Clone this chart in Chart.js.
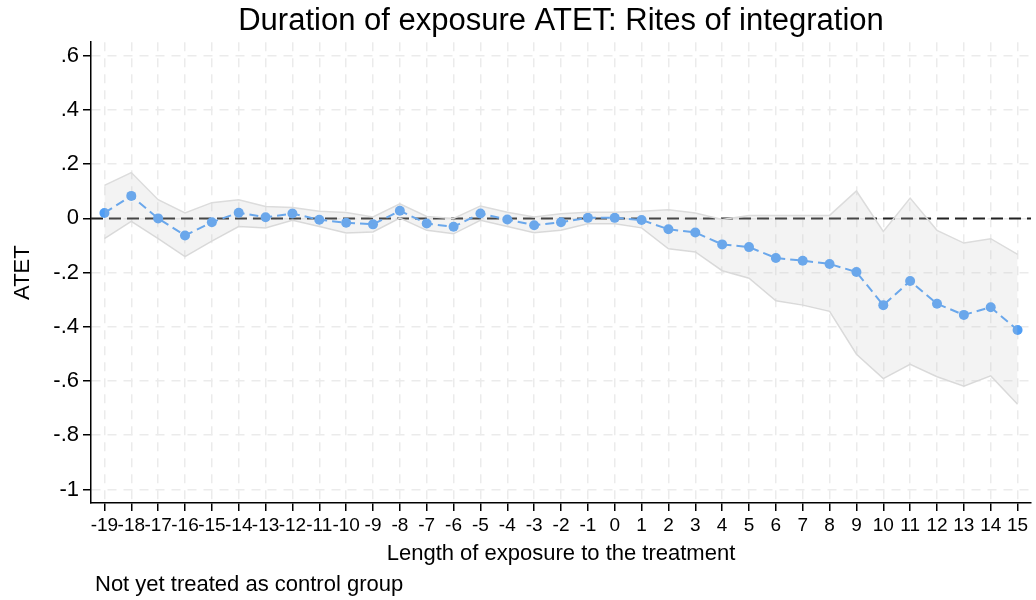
<!DOCTYPE html>
<html>
<head>
<meta charset="utf-8">
<script src="https://cdn.jsdelivr.net/npm/chart.js@4"></script>
<style>
  html, body { margin: 0; padding: 0; background: #fff; }
  #wrap { width: 1036px; height: 600px; }
</style>
</head>
<body>
<div id="wrap"><canvas id="chart-1"></canvas></div>
<script>
// length of exposure (periods relative to treatment)
const periods = [-19, -18, -17, -16, -15, -14, -13, -12, -11, -10, -9, -8, -7, -6, -5, -4, -3, -2, -1,
  0, 1, 2, 3, 4, 5, 6, 7, 8, 9, 10, 11, 12, 13, 14, 15];

// point estimates
const atet = [0.020, 0.083, 0.000, -0.063, -0.014, 0.021, 0.004, 0.018, -0.005, -0.016, -0.022,
  0.028, -0.019, -0.031, 0.018, -0.004, -0.025, -0.014, 0.002,
  0.002, -0.006, -0.040, -0.052, -0.096, -0.106, -0.146, -0.156, -0.168, -0.198, -0.320, -0.231,
  -0.315, -0.356, -0.328, -0.412];

// confidence interval bounds
const ciUpper = [0.122, 0.169, 0.069, 0.020, 0.058, 0.069, 0.044, 0.040, 0.026, 0.022, 0.005,
  0.054, 0.007, 0.000, 0.046, 0.023, 0.005, 0.017, 0.023,
  0.023, 0.026, 0.032, 0.020, -0.004, 0.011, 0.011, 0.011, 0.011, 0.101, -0.048, 0.075,
  -0.044, -0.091, -0.075, -0.133];
const ciLower = [-0.075, -0.011, -0.075, -0.141, -0.084, -0.030, -0.035, -0.007, -0.030, -0.054, -0.050,
  0.001, -0.044, -0.057, -0.007, -0.030, -0.053, -0.044, -0.020,
  -0.020, -0.035, -0.112, -0.124, -0.193, -0.221, -0.304, -0.320, -0.343, -0.501, -0.591, -0.538,
  -0.584, -0.619, -0.581, -0.686];

// y axis ticks and their labels
const yTicks = [-1, -0.8, -0.6, -0.4, -0.2, 0, 0.2, 0.4, 0.6];
const yTickLabels = ['-1', '-.8', '-.6', '-.4', '-.2', '0', '.2', '.4', '.6'];

const titleText = 'Duration of exposure ATET: Rites of integration';
const xTitle = 'Length of exposure to the treatment';
const yTitle = 'ATET';
const noteText = 'Not yet treated as control group';

const FONT = '"Liberation Sans", Arial, Helvetica, sans-serif';
const blue = 'rgb(80, 158, 245)';

const toXY = (vals) => periods.map((p, i) => ({ x: p, y: vals[i] }));

// zero reference line, drawn between the band and the estimates
const zeroLine = {
  id: 'zeroLine',
  beforeDatasetDraw(chart, args) {
    if (args.index !== 2) return;
    const { ctx, chartArea } = chart;
    const y = chart.scales.y.getPixelForValue(0);
    ctx.save();
    ctx.strokeStyle = '#222';
    ctx.lineWidth = 2;
    ctx.setLineDash([12, 6]);
    ctx.beginPath();
    ctx.moveTo(chartArea.left, y);
    ctx.lineTo(chartArea.right, y);
    ctx.stroke();
    ctx.restore();
  }
};

// note under the chart
const note = {
  id: 'note',
  afterDraw(chart) {
    const { ctx, chartArea } = chart;
    ctx.save();
    ctx.font = '22px ' + FONT;
    ctx.fillStyle = '#000';
    ctx.textBaseline = 'alphabetic';
    ctx.fillText(noteText, chartArea.left + 4, 591);
    ctx.restore();
  }
};

const ctx1 = document.getElementById('chart-1').getContext('2d');
const myChart = new Chart(ctx1, {
  type: 'line',
  data: {
    datasets: [
      {
        label: 'upper',
        data: toXY(ciUpper),
        borderColor: '#dcdcdc',
        borderWidth: 1.5,
        pointRadius: 0,
        fill: '+1',
        backgroundColor: 'rgba(200, 200, 200, 0.22)',
        tension: 0
      },
      {
        label: 'lower',
        data: toXY(ciLower),
        borderColor: '#dcdcdc',
        borderWidth: 1.5,
        pointRadius: 0,
        fill: false,
        tension: 0
      },
      {
        label: 'ATET',
        data: toXY(atet),
        borderColor: blue,
        backgroundColor: blue,
        borderWidth: 2,
        borderDash: [9, 5],
        pointRadius: 5,
        pointBorderWidth: 0,
        pointBackgroundColor: blue,
        fill: false,
        tension: 0
      }
    ]
  },
  options: {
    responsive: true,
    maintainAspectRatio: false,
    animation: false,
    events: [],
    layout: { padding: { left: 0, right: 3, top: 0, bottom: 33 } },
    plugins: {
      legend: { display: false },
      tooltip: { enabled: false },
      title: {
        display: true,
        fullSize: false,
        text: titleText,
        color: '#000',
        font: { family: FONT, size: 31, weight: 'normal' },
        padding: { top: 3, bottom: 2 }
      }
    },
    scales: {
      x: {
        type: 'linear',
        min: -19.5,
        max: 15.5,
        afterBuildTicks: (scale) => { scale.ticks = periods.map(v => ({ value: v })); },
        afterFit: (scale) => { scale.height = 64; },
        ticks: {
          autoSkip: false,
          maxRotation: 0,
          padding: 3,
          color: '#000',
          font: { family: FONT, size: 19 },
          callback: (v) => String(v)
        },
        grid: {
          color: '#ebebeb',
          lineWidth: 1.5,
          tickLength: 8,
          tickColor: '#000',
          tickWidth: 1.5
        },
        border: { display: true, color: '#000', width: 1.5, dash: [9, 7] },
        title: {
          display: true,
          text: xTitle,
          color: '#000',
          font: { family: FONT, size: 22 },
          padding: { top: 0, bottom: 0 }
        }
      },
      y: {
        type: 'linear',
        min: -1.05,
        max: 0.65,
        afterBuildTicks: (scale) => { scale.ticks = yTicks.map(v => ({ value: v })); },
        afterFit: (scale) => { scale.width = 91; },
        ticks: {
          padding: 4,
          color: '#000',
          font: { family: FONT, size: 22 },
          callback: (v) => yTickLabels[yTicks.indexOf(v)]
        },
        grid: {
          color: '#ebebeb',
          lineWidth: 1.5,
          tickLength: 8,
          tickColor: '#000',
          tickWidth: 1.5
        },
        border: { display: true, color: '#000', width: 1.5, dash: [9, 7] },
        title: {
          display: true,
          text: yTitle,
          color: '#000',
          font: { family: FONT, size: 22 },
          padding: { top: 10, bottom: 0 }
        }
      }
    }
  },
  plugins: [zeroLine, note]
});
</script>
</body>
</html>
